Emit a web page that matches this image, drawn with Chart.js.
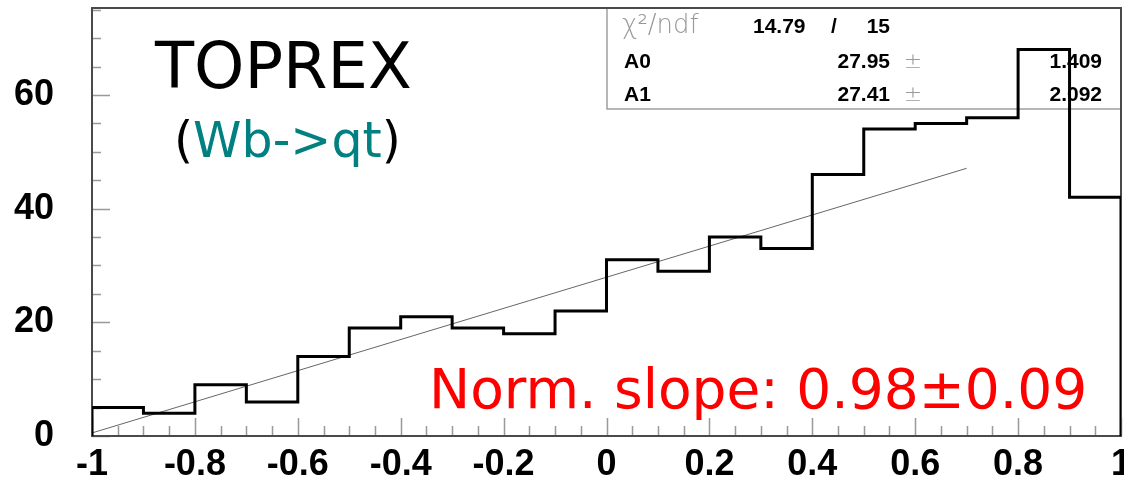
<!DOCTYPE html>
<html>
<head>
<meta charset="utf-8">
<script src="https://cdn.jsdelivr.net/npm/chart.js@4/dist/chart.umd.min.js"></script>
<style>
  html, body { margin: 0; padding: 0; background: #fff; }
  #wrap { width: 1124px; height: 481px; }
</style>
</head>
<body>
<div id="wrap"><canvas id="histChart" width="1124" height="481"></canvas></div>
<script>
// histogram bins (left edges) and contents
const binEdges = [-1, -0.9, -0.8, -0.7, -0.6, -0.5, -0.4, -0.3, -0.2, -0.1, 0, 0.1, 0.2, 0.3, 0.4, 0.5, 0.6, 0.7, 0.8, 0.9];
const counts   = [5, 4, 9, 6, 14, 19, 21, 19, 18, 22, 31, 29, 35, 33, 46, 54, 55, 56, 68, 42];
const binEnd = 1;

// fit line end points
const fitX = [-1, 0.7];
const fitY = [0.54, 47.1];

// axis ticks
const xTicks  = [-1, -0.8, -0.6, -0.4, -0.2, 0, 0.2, 0.4, 0.6, 0.8, 1];
const xLabels = ['-1', '-0.8', '-0.6', '-0.4', '-0.2', '0', '0.2', '0.4', '0.6', '0.8', '1'];
const yTicks  = [0, 20, 40, 60];
const yLabels = ['0', '20', '40', '60'];

// stats box
const statRows = [
  ['A0', '27.95', '1.409'],
  ['A1', '27.41', '2.092']
];

// bin edges -> step points (stepped 'before': flat at previous y, then vertical)
const histPts = [{x: binEdges[0], y: 0}];
binEdges.forEach((e, i) => histPts.push({x: e, y: counts[i]}));
histPts.push({x: binEnd, y: counts[counts.length - 1]});
histPts.push({x: binEnd, y: 0});

const fitPts = fitX.map((x, i) => ({x: x, y: fitY[i]}));

const rootFrame = {
    id: 'rootFrame',
    beforeDatasetsDraw(chart) {
        const ctx = chart.ctx;
        const a = chart.chartArea;
        const xs = chart.scales.x, ys = chart.scales.y;
        ctx.save();

        // stats box
        const bx = 607, by = a.top, bw = a.right - 607, bh = 109 - a.top;
        ctx.strokeStyle = '#888';
        ctx.lineWidth = 1.2;
        ctx.strokeRect(bx, by, bw, bh);
        ctx.textBaseline = 'alphabetic';
        ctx.fillStyle = '#999';
        ctx.font = '300 26px "DejaVu Sans"';
        ctx.textAlign = 'left';
        ctx.fillText('\u03C7\u00B2/ndf', 622, 33);
        ctx.fillStyle = '#000';
        ctx.font = 'bold 21px "Liberation Sans", Arial, sans-serif';
        ctx.fillText('14.79', 753, 33);
        ctx.fillText('/', 831, 33);
        ctx.textAlign = 'right';
        ctx.fillText('15', 890, 33);
        const rowY = [68, 101];
        statRows.forEach((r, i) => {
            ctx.fillStyle = '#000';
            ctx.textAlign = 'left';
            ctx.fillText(r[0], 624, rowY[i]);
            ctx.textAlign = 'right';
            ctx.fillText(r[1], 890, rowY[i]);
            ctx.fillText(r[2], 1102, rowY[i]);
            ctx.fillStyle = '#999';
            ctx.textAlign = 'center';
            ctx.font = '300 22px "DejaVu Sans"';
            ctx.fillText('\u00B1', 913, rowY[i]);
            ctx.font = 'bold 21px "Liberation Sans", Arial, sans-serif';
        });

        // ticks
        ctx.strokeStyle = '#999';
        ctx.lineWidth = 1.5;
        ctx.beginPath();
        for (let k = 0; k <= 40; k++) {
            const v = -1 + k * 0.05;
            const px = Math.round(xs.getPixelForValue(v)) + 0.5;
            const len = (k % 4 === 0) ? 18 : 10;
            ctx.moveTo(px, a.bottom);
            ctx.lineTo(px, a.bottom - len);
        }
        for (let v = 0; v <= ys.max; v += 5) {
            const py = Math.round(ys.getPixelForValue(v)) + 0.5;
            const len = (v % 20 === 0) ? 18 : 9;
            ctx.moveTo(a.left, py);
            ctx.lineTo(a.left + len, py);
        }
        ctx.stroke();

        // frame
        ctx.strokeStyle = '#4a4a4a';
        ctx.lineWidth = 2;
        ctx.strokeRect(a.left, a.top, a.right - a.left, a.bottom - a.top);
        ctx.restore();
    },
    afterDatasetsDraw(chart) {
        const ctx = chart.ctx;
        ctx.save();
        ctx.textAlign = 'left';
        ctx.textBaseline = 'alphabetic';
        ctx.fillStyle = '#000';
        ctx.font = '64px "DejaVu Sans"';
        ctx.fillText('TOPREX', 155, 88);

        ctx.font = '49px "DejaVu Sans"';
        let x = 174;
        ctx.fillText('(', x, 157);
        x += ctx.measureText('(').width;
        ctx.fillStyle = '#008080';
        ctx.fillText('Wb->qt', x, 157);
        x += ctx.measureText('Wb->qt').width;
        ctx.fillStyle = '#000';
        ctx.fillText(')', x, 157);

        ctx.fillStyle = '#ff0000';
        ctx.font = '55px "DejaVu Sans"';
        ctx.fillText('Norm. slope: 0.98\u00B10.09', 429, 408);
        ctx.restore();
    }
};

const ctx = document.getElementById('histChart').getContext('2d');
new Chart(ctx, {
    type: 'line',
    data: {
        datasets: [{
            data: histPts,
            stepped: 'before',
            borderColor: '#000',
            borderWidth: 3,
            pointRadius: 0,
            fill: false
        }, {
            data: fitPts,
            borderColor: '#666',
            borderWidth: 1,
            pointRadius: 0,
            fill: false
        }]
    },
    options: {
        responsive: false,
        animation: false,
        layout: { padding: { top: 8, right: 3, left: 0, bottom: 0 } },
        plugins: { legend: { display: false }, tooltip: { enabled: false } },
        scales: {
            x: {
                type: 'linear',
                min: -1,
                max: 1,
                grid: { display: false, drawTicks: false },
                border: { display: false },
                afterBuildTicks: s => { s.ticks = xTicks.map(v => ({value: v})); },
                afterFit: s => { s.height = 45; s.paddingLeft = 0; s.paddingRight = 0; },
                ticks: {
                    autoSkip: false,
                    maxRotation: 0,
                    padding: 7,
                    color: '#000',
                    font: { family: '"Liberation Sans", Arial, sans-serif', size: 36, weight: 'bold' },
                    callback: (v) => xLabels[xTicks.findIndex(t => Math.abs(t - v) < 1e-6)]
                }
            },
            y: {
                type: 'linear',
                min: 0,
                max: 75.3,
                grid: { display: false, drawTicks: false },
                border: { display: false },
                afterBuildTicks: s => { s.ticks = yTicks.map(v => ({value: v})); },
                afterFit: s => { s.width = 92; s.paddingTop = 0; s.paddingBottom = 0; },
                ticks: {
                    padding: 38,
                    color: '#000',
                    font: { family: '"Liberation Sans", Arial, sans-serif', size: 36, weight: 'bold' },
                    callback: (v) => yLabels[yTicks.indexOf(v)]
                }
            }
        }
    },
    plugins: [rootFrame]
});
</script>
</body>
</html>
